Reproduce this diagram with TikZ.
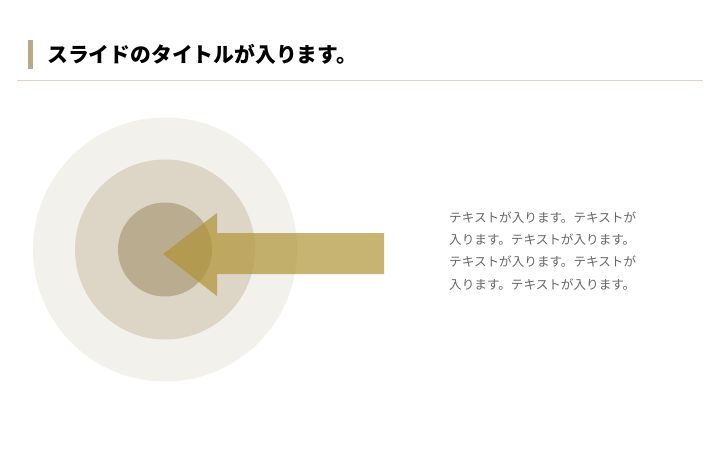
\documentclass[tikz,border=0pt]{standalone}
\usepackage{fontspec}
\newfontfamily\jp{Noto Sans CJK JP}
\definecolor{outerc}{HTML}{F3F1EC}
\definecolor{midc}{HTML}{DDD5C5}
\definecolor{innerc}{HTML}{BAAC8F}
\definecolor{arrowc}{HTML}{B09437}
\definecolor{barc}{HTML}{B8A98A}
\definecolor{rulec}{HTML}{DCD3C4}
\definecolor{bodyc}{HTML}{666666}
\tikzset{
  ring/.style={circle, inner sep=0pt, draw=none},
  titletext/.style={anchor=west, inner sep=0pt, font=\jp\bfseries\fontsize{20.8}{24}\selectfont, text=black},
  bodytext/.style={anchor=north west, inner sep=0pt, align=left, font=\jp\fontsize{12.6}{22.3}\selectfont, text=bodyc}
}
\begin{document}
\begin{tikzpicture}[x=1pt,y=-1pt]
\useasboundingbox (0,0) rectangle (720,450);
\fill[white] (0,0) rectangle (720,450);
% title
\fill[barc] (28,39.5) rectangle (33,69);
\node[titletext] (title) at (47,54) {スライドのタイトルが入ります。};
\draw[rulec, line width=1pt] (17,80.5) -- (703,80.5);
% circles
\node[ring, fill=outerc, minimum size=264pt] (outer) at (165,249.5) {};
\node[ring, fill=midc, minimum size=180pt] (mid) at (165,249.5) {};
\node[ring, fill=innerc, minimum size=94pt] (inner) at (165,249.5) {};
% arrow
\fill[arrowc, fill opacity=0.7] (384,233) -- (217,233) -- (217,213) -- (163,254) -- (217,296) -- (217,274) -- (384,274) -- cycle;
% body text
\node[bodytext] (body) at (449,211.5) {テキストが入ります。テキストが\\入ります。テキストが入ります。\\テキストが入ります。テキストが\\入ります。テキストが入ります。};
\end{tikzpicture}
\end{document}
